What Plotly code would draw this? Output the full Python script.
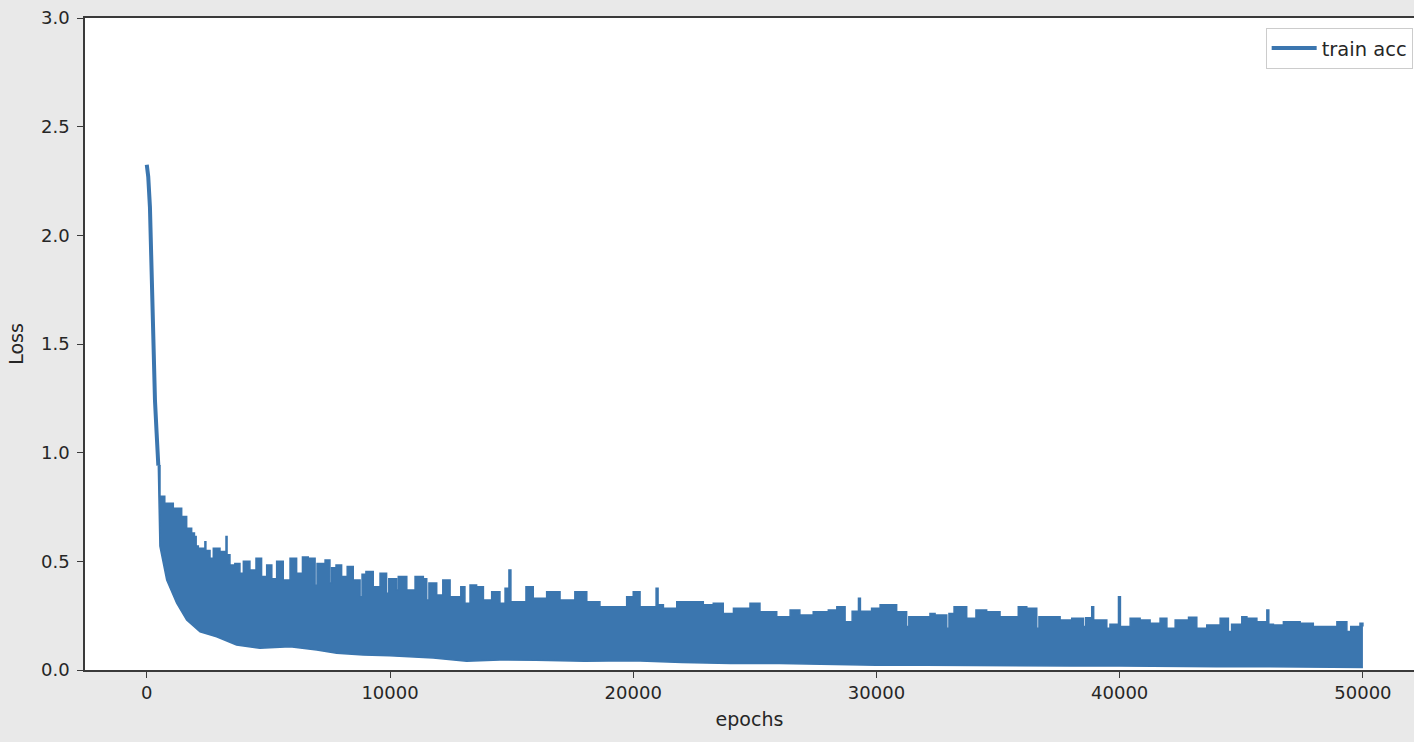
import plotly.graph_objects as go

# Initial steep descent (single line)
descent_epochs = [0, 60, 130, 160, 225, 267, 337, 405, 475]
descent_loss = [2.325, 2.27, 2.13, 1.98, 1.75, 1.52, 1.24, 1.09, 0.94]

# Upper envelope of the noisy band
upper_epochs = [475, 543, 740, 1090, 1435, 1640, 1845, 1960, 1980, 2030, 2120, 2390, 2430, 2600, 2735,
                3010, 3220, 3257, 3300, 3420, 3620, 3830, 3970, 4240, 4490, 4720, 4930, 5140, 5340,
                5610, 5890, 6160, 6400, 6640, 6920, 7000, 7330, 7530, 7600, 7780, 8010, 8240, 8490, 8770,
                8850, 9010, 9310, 9590, 9860, 9950, 10270, 10340, 10690, 11030, 11370, 11510, 11600,
                11920, 12170, 12470, 12910, 13080, 13290, 13560, 13840, 14180, 14520, 14730, 14890,
                14970, 15590, 15890, 16440, 16990, 17600, 18090, 18630, 19180, 19730, 20000, 20280,
                20940, 21020, 21240, 21790, 22470, 22880, 23290, 23700, 24120, 24800, 25210, 25900,
                26450, 26850, 27400, 28020, 28370, 28710, 29000, 29260, 29340, 29800, 30150, 30420,
                30830, 31240, 31330, 31660, 32200, 32410, 32890, 32980, 33190, 33710, 34090, 34530,
                35080, 35830, 36180, 36590, 36680, 37000, 37550, 38030, 38510, 38600, 38850, 38930,
                39190, 39470, 39600, 39950, 40030, 40430, 40840, 41250, 41660, 41940, 42280, 42830,
                43170, 43580, 44130, 44470, 44600, 45020, 45230, 45640, 46050, 46130, 46320, 46730,
                47420, 47960, 48520, 48930, 49340, 49500, 49880, 50000]
upper_loss = [0.94, 0.80, 0.767, 0.744, 0.706, 0.652, 0.63, 0.60, 0.614, 0.57, 0.56, 0.59, 0.55, 0.514, 0.56,
              0.545, 0.53, 0.614, 0.53, 0.483, 0.49, 0.445, 0.50, 0.46, 0.514, 0.43, 0.483, 0.42, 0.50,
              0.414, 0.514, 0.445, 0.52, 0.514, 0.39, 0.49, 0.506, 0.40, 0.47, 0.483, 0.43, 0.476, 0.414,
              0.337, 0.44, 0.453, 0.383, 0.445, 0.353, 0.42, 0.368, 0.43, 0.368, 0.43, 0.42, 0.322, 0.40,
              0.345, 0.414, 0.337, 0.383, 0.307, 0.391, 0.383, 0.322, 0.36, 0.307, 0.376, 0.46,
              0.314, 0.383, 0.33, 0.36, 0.322, 0.36, 0.314, 0.291, 0.291, 0.337, 0.36, 0.291,
              0.376, 0.30, 0.284, 0.314, 0.314, 0.30, 0.307, 0.26, 0.284, 0.307, 0.268, 0.245,
              0.276, 0.253, 0.268, 0.276, 0.291, 0.222, 0.27, 0.33, 0.27, 0.284, 0.30, 0.30,
              0.268, 0.20, 0.245, 0.245, 0.26, 0.253, 0.192, 0.26, 0.291, 0.238, 0.276, 0.268,
              0.245, 0.291, 0.284, 0.192, 0.245, 0.245, 0.23, 0.238, 0.20, 0.24, 0.291, 0.23,
              0.23, 0.192, 0.21, 0.337, 0.20, 0.238, 0.23, 0.215, 0.238, 0.192, 0.23, 0.243,
              0.192, 0.207, 0.238, 0.177, 0.21, 0.245, 0.238, 0.222, 0.276, 0.21, 0.207, 0.222,
              0.215, 0.20, 0.20, 0.222, 0.177, 0.20, 0.215, 0.20]

# Lower envelope of the noisy band
lower_epochs = [475, 540, 820, 1230, 1640, 2190, 2870, 3690, 4650, 5890, 6990, 7810, 8900, 9990,
                11780, 13150, 14520, 16000, 18000, 20000, 22000, 24000, 26000, 28000, 30000,
                32000, 34000, 36000, 38000, 40000, 42000, 44000, 46000, 48000, 50000]
lower_loss = [0.94, 0.57, 0.414, 0.307, 0.23, 0.176, 0.153, 0.115, 0.10, 0.107, 0.092, 0.077, 0.069,
              0.065, 0.055, 0.04, 0.046, 0.045, 0.04, 0.042, 0.035, 0.03, 0.03, 0.025, 0.022,
              0.022, 0.02, 0.02, 0.018, 0.018, 0.015, 0.015, 0.015, 0.012, 0.012]

x_ticks = [0, 10000, 20000, 30000, 40000, 50000]
y_ticks = [0.0, 0.5, 1.0, 1.5, 2.0, 2.5, 3.0]
y_tick_text = ["0.0", "0.5", "1.0", "1.5", "2.0", "2.5", "3.0"]

COLOR = "#3b76af"
FONT = "DejaVu Sans"

fig = go.Figure()

# lower edge of the band
fig.add_trace(go.Scatter(
    x=lower_epochs, y=lower_loss, mode="lines",
    line=dict(color=COLOR, width=1.5), showlegend=False, hoverinfo="skip"))

# upper edge of the band, filled down to the lower edge
fig.add_trace(go.Scatter(
    x=upper_epochs, y=upper_loss, mode="lines", fill="tonexty", fillcolor=COLOR,
    line=dict(color=COLOR, width=1.5, shape="hv"), showlegend=False, hoverinfo="skip"))

fig.add_trace(go.Scatter(
    x=descent_epochs, y=descent_loss, mode="lines", name="train acc",
    line=dict(color=COLOR, width=4)))

axis_common = dict(
    showline=True, linecolor="#3a3a3a", linewidth=1.5,
    ticks="outside", ticklen=6, tickwidth=1.3, tickcolor="#3a3a3a",
    showgrid=False, zeroline=False,
    tickfont=dict(family=FONT, size=18, color="#262626"),
)

fig.update_layout(
    width=1414, height=742,
    margin=dict(l=85, r=0, t=18, b=72),
    paper_bgcolor="#e9e9e9", plot_bgcolor="white",
    font=dict(family=FONT, size=18, color="#262626"),
    xaxis=dict(range=[-2540, 52100], tickvals=x_ticks, ticktext=[str(v) for v in x_ticks],
               mirror=True, title=dict(text="epochs", font=dict(family=FONT, size=19), standoff=10),
               **axis_common),
    yaxis=dict(range=[0, 3.0], tickvals=y_ticks, ticktext=y_tick_text, mirror=False,
               ticklabelstandoff=4,
               title=dict(text="Loss", font=dict(family=FONT, size=19), standoff=12),
               **axis_common),
    legend=dict(x=0.999, y=0.985, xanchor="right", yanchor="top",
                bgcolor="white", bordercolor="#cccccc", borderwidth=1,
                itemwidth=45,
                font=dict(family=FONT, size=19.5, color="#262626")),
    showlegend=True,
)

fig.write_html(
    "out.html",
    config={"displayModeBar": False},
    post_script="document.body.style.margin='0';document.body.style.overflow='hidden';",
)
